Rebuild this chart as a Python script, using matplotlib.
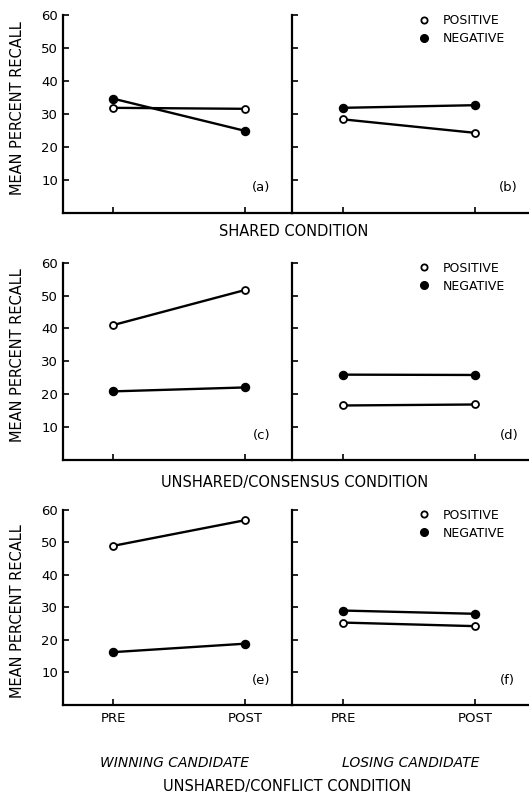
import matplotlib
matplotlib.use("Agg")
import matplotlib.pyplot as plt
from matplotlib.lines import Line2D

plt.rcParams['font.family'] = ['DejaVu Sans']

# x categories
phases = ["PRE", "POST"]
candidates = ["WINNING CANDIDATE", "LOSING CANDIDATE"]
conditions = ["SHARED CONDITION", "UNSHARED/CONSENSUS CONDITION", "UNSHARED/CONFLICT CONDITION"]
panel_tags = [["(a)", "(b)"], ["(c)", "(d)"], ["(e)", "(f)"]]

# mean percent recall, [row][col] -> [PRE, POST]
positive = [
    [[31.8, 31.5], [28.3, 24.2]],
    [[41.0, 51.7], [16.5, 16.8]],
    [[48.9, 56.8], [25.3, 24.2]],
]
negative = [
    [[34.6, 24.8], [31.8, 32.6]],
    [[20.8, 22.0], [25.9, 25.8]],
    [[16.2, 18.8], [29.0, 28.0]],
]

yticks = [10, 20, 30, 40, 50, 60]

W, H = 529, 797
fig = plt.figure(figsize=(W / 100, H / 100), dpi=100)

# axes layout in pixels: (left, width) per column, (zero line y, 60 line y) per row
cols_px = [(63, 229), (292, 237)]
rows_px = [(212.5, 15.0), (459.6, 262.8), (704.8, 509.8)]
pre_offset = [50, 51]
px_per_unit = 132.0
ylab_y = [0.53, 0.53, 0.48]
tag_x = [[0.905, 0.95], [0.905, 0.955], [0.905, 0.94]]
title_y = [232, 482, 787]
title_x = [294, 295, 287]

x = list(range(len(phases)))

for r in range(3):
    y0, y60 = rows_px[r]
    for c in range(2):
        left, width = cols_px[c]
        ax = fig.add_axes([left / W, (H - y0) / H, width / W, (y0 - y60) / H])
        ax.set_facecolor("none")
        for s in ["top", "right"]:
            ax.spines[s].set_visible(False)
        for s in ["left", "bottom"]:
            ax.spines[s].set_linewidth(1.6)
        ax.set_ylim(0, 60)
        lo = -pre_offset[c] / px_per_unit
        ax.set_xlim(lo, lo + width / px_per_unit)
        ax.set_yticks(yticks)
        ax.set_xticks(x)
        ax.tick_params(axis="both", direction="in", length=4, width=1.2, labelsize=9.5)
        if c == 0:
            ax.set_yticklabels([str(t) for t in yticks])
            ax.set_ylabel("MEAN PERCENT RECALL", fontsize=10.5)
            ax.yaxis.set_label_coords(-0.165, ylab_y[r])
        else:
            ax.set_yticklabels([])
        if r == 2:
            ax.set_xticklabels(phases)
            ax.tick_params(axis="x", pad=5)
        else:
            ax.set_xticklabels([])

        ax.plot(x, positive[r][c], color="black", lw=1.7, marker="o", ms=5,
                mfc="white", mec="black", mew=1.3, zorder=3)
        ax.plot(x, negative[r][c], color="black", lw=1.7, marker="o", ms=5.8,
                mfc="black", mec="black", zorder=3)

        ax.text(tag_x[r][c], 0.125, panel_tags[r][c], transform=ax.transAxes,
                ha="right", va="center", fontsize=9.5)

        if c == 1:
            handles = [
                Line2D([], [], ls="none", marker="o", ms=4.5, mfc="white", mec="black", mew=1.3),
                Line2D([], [], ls="none", marker="o", ms=5.5, mfc="black", mec="black"),
            ]
            ax.legend(handles, ["POSITIVE", "NEGATIVE"], loc="upper left",
                      bbox_to_anchor=(0.535, 1.005), frameon=False, fontsize=9,
                      handlelength=0.8, handletextpad=1.1, labelspacing=0.4,
                      borderpad=0, borderaxespad=0)

    fig.text(title_x[r] / W, (H - title_y[r]) / H, conditions[r],
             ha="center", va="center", fontsize=10.5)

fig.text(174 / W, (H - 763) / H, candidates[0], ha="center", va="center",
         fontsize=10, style="italic")
fig.text(411 / W, (H - 763) / H, candidates[1], ha="center", va="center",
         fontsize=10, style="italic")

fig.savefig("out.png", dpi=100)
